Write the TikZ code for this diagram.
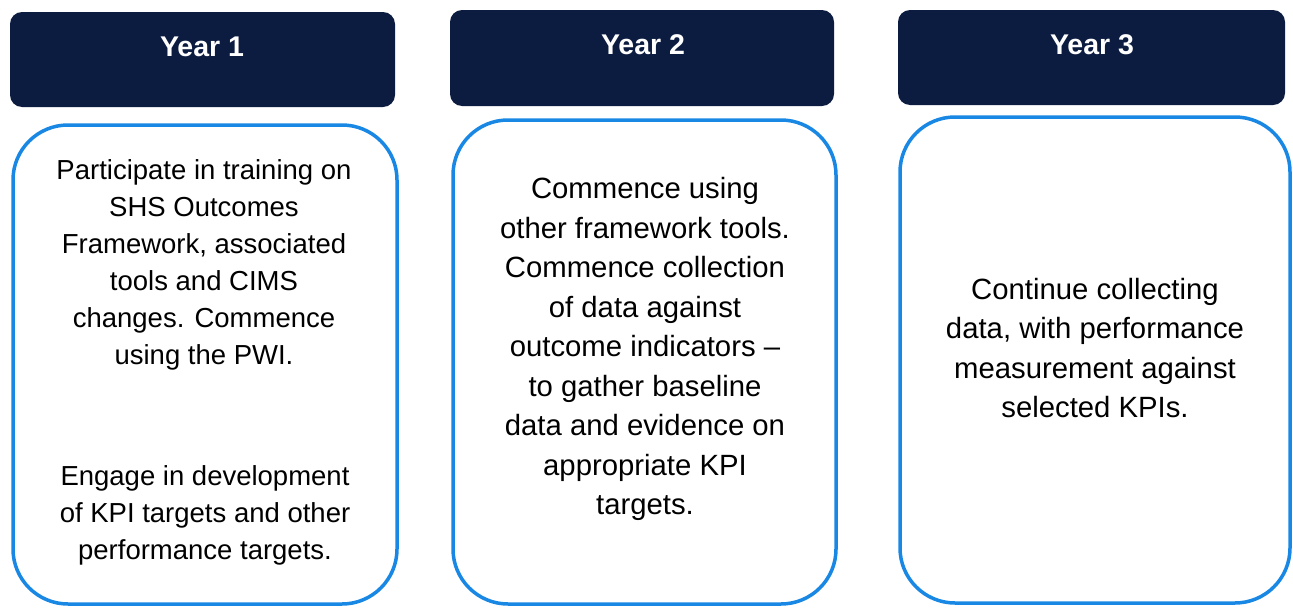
\documentclass[tikz,border=0pt]{standalone}
\usepackage{fontspec}
\setmainfont{Liberation Sans}
\usetikzlibrary{calc}

\definecolor{navy}{RGB}{12,27,64}
\definecolor{frameblue}{RGB}{24,136,228}

\begin{document}
\begin{tikzpicture}[x=1pt, y=-1pt]

        % Fixes the page to the size of the reference
        \useasboundingbox (0, 0) rectangle (1293, 608);

        % Looks of the headers, frames and texts
        \tikzset{
            header/.style={fill=navy, rounded corners=12pt},
            frame/.style={draw=frameblue, line width=3.5pt, rounded corners=55pt},
            headtext/.style={text=white, font=\fontsize{28.5}{32}\selectfont\bfseries},
            bodytext/.style={align=center, font=\fontsize{27.5}{37}\selectfont},
            widetext/.style={align=center, font=\fontsize{29.3}{39.5}\selectfont}
        }

        % Corners of the headers (a = top left, b = bottom right)
        \begin{scope}
            \coordinate (H1a) at (10, 12);
            \coordinate (H1b) at (395, 107);
            \coordinate (H2a) at (450, 10);
            \coordinate (H2b) at (834, 106);
            \coordinate (H3a) at (898, 10);
            \coordinate (H3b) at (1285, 105);
        \end{scope}

        % Corners of the blue frames below them
        \begin{scope}
            \coordinate (B1a) at (13, 125);
            \coordinate (B1b) at (397, 604);
            \coordinate (B2a) at (453, 120);
            \coordinate (B2b) at (836, 604);
            \coordinate (B3a) at (900, 117);
            \coordinate (B3b) at (1290, 603);
        \end{scope}

        % Dark headers with the years
        \begin{scope}
            \fill[header] (H1a) rectangle (H1b);
            \fill[header] (H2a) rectangle (H2b);
            \fill[header] (H3a) rectangle (H3b);

            \node[headtext] (year1) at (202, 47) {Year 1};
            \node[headtext] (year2) at (643, 45) {Year 2};
            \node[headtext] (year3) at (1092, 45) {Year 3};
        \end{scope}

        % Frames
        \begin{scope}
            \draw[frame] (B1a) rectangle (B1b);
            \draw[frame] (B2a) rectangle (B2b);
            \draw[frame] (B3a) rectangle (B3b);
        \end{scope}

        % Texts inside the frames
        \node[bodytext] (train) at (204, 265) {Participate in training on\\
            SHS Outcomes\\ Framework, associated\\ tools and CIMS\\
            changes. Commence\\ using the PWI.};
        \node[bodytext] (engage) at (205, 515) {Engage in development\\
            of KPI targets and other\\ performance targets.};
        \node[widetext] (collect) at (645, 349) {Commence using\\
            other framework tools.\\ Commence collection\\ of data against\\
            outcome indicators --\\ to gather baseline\\
            data and evidence on\\ appropriate KPI\\ targets.};
        \node[widetext] (measure) at (1095, 348) {Continue collecting\\
            data, with performance\\ measurement against\\ selected KPIs.};

\end{tikzpicture}
\end{document}
